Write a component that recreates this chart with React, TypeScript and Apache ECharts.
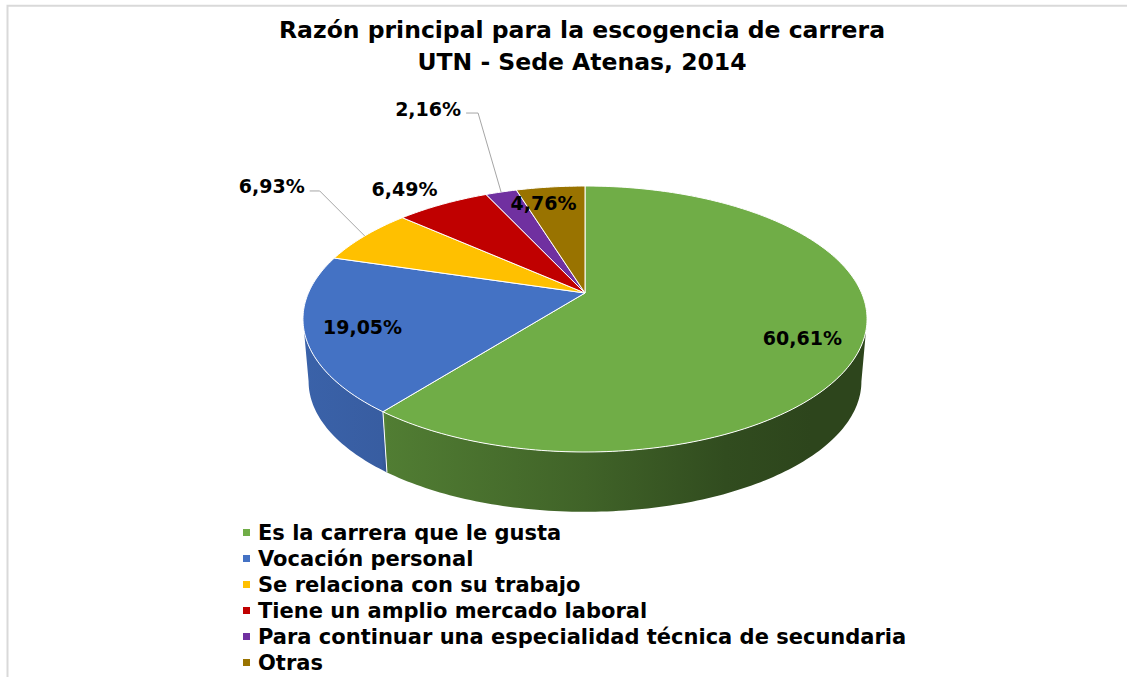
import React, { useEffect, useRef } from "react";
import * as echarts from "echarts";

// ---------- data ----------
const titleLines = [
  "Razón principal para la escogencia de carrera",
  "UTN - Sede Atenas, 2014",
];
const categories = [
  "Es la carrera que le gusta",
  "Vocación personal",
  "Se relaciona con su trabajo",
  "Tiene un amplio mercado laboral",
  "Para continuar una especialidad técnica de secundaria",
  "Otras",
];
const values = [60.61, 19.05, 6.93, 6.49, 2.16, 4.76];
const colors = ["#70AD47", "#4472C4", "#FFC000", "#C00000", "#7030A0", "#997300"];

// ---------- layout / style ----------
const FONT = "'DejaVu Sans', sans-serif";
const PIE = { cx: 585, cy: 293, a: 276.6, b: 127.9, q: 0.1955, depth: 63, bottomScale: 0.98 };
const WALL_SHADE: [number, number][] = [
  [0, 0.86],
  [0.14, 0.82],
  [0.15, 0.72],
  [0.5, 0.57],
  [0.75, 0.44],
  [0.9, 0.4],
  [1, 0.4],
];
type LabelLayout = { r: number; dx: number; dy: number; leader?: [number, number][] };
const LABEL_LAYOUT: LabelLayout[] = [
  { r: 0.8, dx: -3, dy: 10 },
  { r: 0.8, dx: -1, dy: 2 },
  { r: 1, dx: -93, dy: -50, leader: [[48, 5], [38, 5]] },
  { r: 1, dx: -38, dy: -15 },
  { r: 1, dx: -73, dy: -83, leader: [[50, 4], [38, 4]] },
  { r: 1, dx: -7, dy: 16 },
];

const total = values.reduce((s, v) => s + v, 0);
const starts: number[] = [0];
values.forEach((v, i) => starts.push(starts[i] + (v / total) * Math.PI * 2));
const VIS_FROM = Math.acos(-PIE.q);
const VIS_TO = Math.PI * 2 - VIS_FROM;

const fmt = (v: number) => v.toFixed(2).replace(".", ",") + "%";

function project(phi: number, r: number, bottom: boolean): [number, number] {
  const u = Math.sin(phi) * r;
  const v = -Math.cos(phi) * r;
  const w = 1 - PIE.q * v;
  const s = bottom ? PIE.bottomScale : 1;
  return [PIE.cx + (s * PIE.a * u) / w, PIE.cy + (bottom ? PIE.depth : 0) + (s * PIE.b * v) / w];
}

function arc(a0: number, a1: number, bottom: boolean): [number, number][] {
  const n = Math.max(2, Math.ceil(((a1 - a0) * 180) / Math.PI));
  const pts: [number, number][] = [];
  for (let k = 0; k <= n; k++) pts.push(project(a0 + ((a1 - a0) * k) / n, 1, bottom));
  return pts;
}

function shade(hex: string, f: number): string {
  const n = parseInt(hex.slice(1), 16);
  const r = Math.round(((n >> 16) & 255) * f);
  const g = Math.round(((n >> 8) & 255) * f);
  const b = Math.round((n & 255) * f);
  return `rgb(${r},${g},${b})`;
}

function renderSlice(params: any) {
  const i = params.dataIndex;
  const a0 = starts[i];
  const a1 = starts[i + 1];
  const children: any[] = [];
  const w0 = Math.max(a0, VIS_FROM);
  const w1 = Math.min(a1, VIS_TO);
  if (w1 > w0) {
    const top = arc(w0, w1, false);
    const bot = arc(w0, w1, true).reverse();
    const left = PIE.cx - PIE.a * 1.02;
    const right = PIE.cx + PIE.a * 1.02;
    children.push({
      type: "polygon",
      shape: { points: [...top, ...bot] },
      style: {
        fill: new echarts.graphic.LinearGradient(
          left,
          0,
          right,
          0,
          WALL_SHADE.map(([o, f]) => ({ offset: o, color: shade(colors[i], f) })),
          true
        ),
      },
    });
    if (a0 > VIS_FROM && a0 < VIS_TO) {
      const p1 = project(a0, 1, false);
      const p2 = project(a0, 1, true);
      children.push({
        type: "line",
        shape: { x1: p1[0], y1: p1[1], x2: p2[0], y2: p2[1] },
        style: { stroke: "#ffffff", lineWidth: 1 },
      });
    }
  }
  children.push({
    type: "polygon",
    shape: { points: [project(0, 0, false), ...arc(a0, a1, false)] },
    style: { fill: colors[i], stroke: "#ffffff", lineWidth: 1, lineJoin: "round" },
  });
  return { type: "group", children };
}

function renderLabel(params: any) {
  const i = params.dataIndex;
  const L = LABEL_LAYOUT[i];
  const mid = (starts[i] + starts[i + 1]) / 2;
  const [ax, ay] = project(mid, L.r, false);
  const lx = ax + L.dx;
  const ly = ay + L.dy;
  const children: any[] = [];
  if (L.leader) {
    children.push({
      type: "polyline",
      shape: { points: [[ax, ay], ...L.leader.map(([dx, dy]) => [lx + dx, ly + dy])] },
      style: { stroke: "#a6a6a6", lineWidth: 1, fill: "none" },
    });
  }
  children.push({
    type: "text",
    x: lx,
    y: ly,
    style: {
      text: fmt(values[i]),
      fill: "#000000",
      font: `bold 19px ${FONT}`,
      align: "center",
      verticalAlign: "middle",
      textAlign: "center",
      textVerticalAlign: "middle",
    },
  });
  return { type: "group", children };
}

export default function App() {
  const ref = useRef<HTMLDivElement>(null);
  useEffect(() => {
    if (!ref.current) return;
    const chart = echarts.init(ref.current, undefined, { renderer: "svg" });
    chart.setOption({
      animation: false,
      backgroundColor: "#ffffff",
      graphic: [
        {
          type: "rect",
          shape: { x: 7.5, y: 5.8, width: 1300, height: 900 },
          style: { fill: "none", stroke: "#d9d9d9", lineWidth: 2 },
          silent: true,
        },
        ...titleLines.map((t, k) => ({
          type: "text",
          x: 582,
          y: 30 + k * 32,
          style: {
            text: t,
            fill: "#000000",
            font: `bold 23.5px ${FONT}`,
            align: "center",
            verticalAlign: "middle",
            textAlign: "center",
            textVerticalAlign: "middle",
          },
        })),
      ],
      legend: {
        orient: "vertical",
        left: 243,
        top: 522,
        padding: 0,
        data: categories,
        icon: "rect",
        itemWidth: 7,
        itemHeight: 7,
        itemGap: 5,
        selectedMode: false,
        textStyle: {
          fontFamily: FONT,
          fontWeight: "bold",
          fontSize: 21,
          color: "#000000",
          lineHeight: 20,
          padding: [0, 0, 0, 3],
        },
      },
      series: [
        {
          type: "pie",
          name: "legend",
          center: [-100, -100],
          radius: [0, 1],
          silent: true,
          label: { show: false },
          labelLine: { show: false },
          data: categories.map((n, i) => ({ name: n, value: values[i], itemStyle: { color: colors[i] } })),
        },
        {
          type: "custom",
          name: "slices",
          coordinateSystem: "none",
          z: 2,
          silent: true,
          data: values.map((v) => [v]),
          renderItem: renderSlice,
        },
        {
          type: "custom",
          name: "labels",
          coordinateSystem: "none",
          z: 3,
          silent: true,
          data: values.map((v) => [v]),
          renderItem: renderLabel,
        },
      ],
    });
    return () => chart.dispose();
  }, []);
  return (
    <div
      ref={ref}
      style={{ position: "absolute", left: 0, top: 0, width: 1127, height: 677, background: "#fff" }}
    />
  );
}
